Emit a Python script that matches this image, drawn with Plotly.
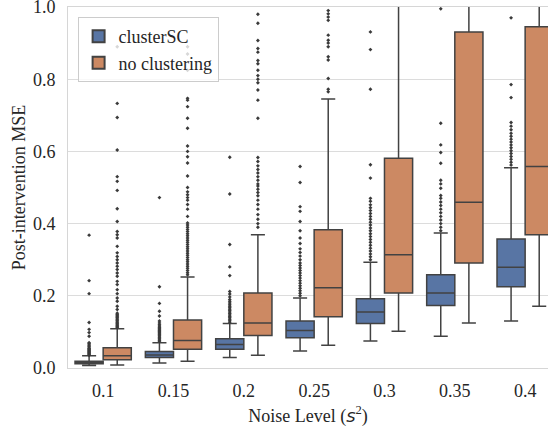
import numpy as np
import plotly.graph_objects as go

categories = ["0.1", "0.15", "0.2", "0.25", "0.3", "0.35", "0.4"]
series_names = ["clusterSC", "no clustering"]

# clusterSC box statistics
sc_q1 = [0.012, 0.029, 0.052, 0.084, 0.123, 0.173, 0.225]
sc_median = [0.015, 0.036, 0.065, 0.104, 0.155, 0.208, 0.279]
sc_q3 = [0.019, 0.046, 0.081, 0.130, 0.192, 0.258, 0.357]
sc_low = [0.007, 0.014, 0.029, 0.047, 0.075, 0.088, 0.130]
sc_high = [0.034, 0.070, 0.123, 0.194, 0.293, 0.374, 0.555]

# no clustering box statistics
nc_q1 = [0.023, 0.052, 0.090, 0.142, 0.208, 0.291, 0.369]
nc_median = [0.034, 0.076, 0.125, 0.222, 0.314, 0.459, 0.558]
nc_q3 = [0.056, 0.133, 0.208, 0.383, 0.581, 0.931, 0.945]
nc_low = [0.008, 0.019, 0.035, 0.063, 0.102, 0.125, 0.171]
nc_high = [0.109, 0.252, 0.369, 0.745, 1.12, 1.50, 1.60]

# outliers (fliers)
sc_out = [
    [0.035, 0.037, 0.039, 0.041, 0.043, 0.045, 0.047, 0.049, 0.051, 0.053, 0.055, 0.058,
     0.061, 0.064, 0.067, 0.070, 0.088, 0.098, 0.107, 0.126, 0.206, 0.242, 0.368],
    [0.074, 0.077, 0.080, 0.083, 0.086, 0.089, 0.092, 0.095, 0.098, 0.101, 0.104, 0.107,
     0.110, 0.113, 0.116, 0.120, 0.125, 0.130, 0.144, 0.157, 0.179, 0.225, 0.472],
    [0.127, 0.131, 0.135, 0.139, 0.143, 0.147, 0.151, 0.155, 0.159, 0.163, 0.167, 0.171,
     0.175, 0.180, 0.185, 0.190, 0.197, 0.205, 0.212, 0.256, 0.280, 0.342, 0.482, 0.584],
    [0.200, 0.207, 0.214, 0.221, 0.228, 0.235, 0.242, 0.249, 0.256, 0.263, 0.270, 0.277,
     0.284, 0.291, 0.300, 0.310, 0.320, 0.330, 0.345, 0.360, 0.380, 0.406, 0.434, 0.447,
     0.514, 0.558],
    [0.300, 0.308, 0.316, 0.324, 0.332, 0.340, 0.348, 0.356, 0.364, 0.372, 0.380, 0.388,
     0.396, 0.404, 0.412, 0.420, 0.428, 0.436, 0.444, 0.452, 0.462, 0.470, 0.526, 0.563,
     0.772, 0.882, 0.931],
    [0.380, 0.390, 0.400, 0.410, 0.420, 0.430, 0.440, 0.450, 0.460, 0.470, 0.478, 0.498,
     0.510, 0.520, 0.567, 0.597, 0.618, 0.678, 0.995],
    [0.562, 0.570, 0.578, 0.586, 0.594, 0.602, 0.610, 0.618, 0.626, 0.634, 0.642, 0.650,
     0.660, 0.670, 0.680, 0.749, 0.785, 0.970],
]
nc_out = [
    [0.112, 0.115, 0.118, 0.121, 0.124, 0.127, 0.130, 0.133, 0.136, 0.139, 0.142, 0.145,
     0.148, 0.152, 0.162, 0.171, 0.185, 0.194, 0.206, 0.217, 0.231, 0.240, 0.254, 0.263,
     0.273, 0.282, 0.291, 0.300, 0.309, 0.319, 0.337, 0.360, 0.369, 0.378, 0.406, 0.441,
     0.492, 0.517, 0.530, 0.604, 0.694, 0.733, 0.890],
    [0.258, 0.264, 0.270, 0.276, 0.282, 0.288, 0.294, 0.300, 0.306, 0.312, 0.318, 0.324,
     0.330, 0.336, 0.342, 0.348, 0.354, 0.360, 0.366, 0.372, 0.378, 0.384, 0.390, 0.396,
     0.402, 0.420, 0.440, 0.453, 0.465, 0.472, 0.480, 0.488, 0.500, 0.532, 0.568, 0.585,
     0.600, 0.615, 0.664, 0.692, 0.724, 0.742, 0.747, 0.825, 0.870, 0.890],
    [0.390, 0.400, 0.412, 0.425, 0.440, 0.453, 0.465, 0.477, 0.486, 0.495, 0.504, 0.510,
     0.520, 0.530, 0.540, 0.550, 0.560, 0.572, 0.583, 0.692, 0.742, 0.770, 0.790, 0.800,
     0.810, 0.825, 0.843, 0.852, 0.875, 0.885, 0.907, 0.955, 0.980],
    [0.765, 0.772, 0.802, 0.853, 0.862, 0.890, 0.900, 0.908, 0.922, 0.963, 0.972, 0.981,
     0.990],
    [],
    [],
    [],
]

colors = ["#5875a4", "#cc8963"]
line_col = "#424242"
TXT = "#262626"
FONT = "Times New Roman"
FS = 18

pos = np.arange(len(categories))
fig = go.Figure()

stats = [
    (sc_q1, sc_median, sc_q3, sc_low, sc_high),
    (nc_q1, nc_median, nc_q3, nc_low, nc_high),
]
for name, col, (q1, med, q3, lo, hi) in zip(series_names, colors, stats):
    fig.add_trace(go.Box(
        x=pos, q1=q1, median=med, q3=q3, lowerfence=lo, upperfence=hi,
        name=name, fillcolor=col, line=dict(color=line_col, width=1.5),
        boxpoints=False, whiskerwidth=0.5, offsetgroup=name,
    ))

for k, outs in enumerate([sc_out, nc_out]):
    xs, ys = [], []
    off = -0.2 if k == 0 else 0.2
    for i, vals in enumerate(outs):
        xs += [pos[i] + off] * len(vals)
        ys += vals
    fig.add_trace(go.Scatter(
        x=xs, y=ys, mode="markers", showlegend=False, hoverinfo="skip", cliponaxis=True,
        marker=dict(symbol="diamond", size=3, color="#3a3a3a", line=dict(width=0)),
    ))

fig.update_layout(
    width=548, height=427,
    margin=dict(l=68, r=0, t=7, b=59, autoexpand=False),
    paper_bgcolor="white", plot_bgcolor="white",
    boxmode="group", boxgap=0.2, boxgroupgap=0.0,
    font=dict(family=FONT, size=FS, color=TXT),
    legend=dict(
        x=0.02, y=0.972, xanchor="left", yanchor="top",
        bgcolor="rgba(255,255,255,0.8)", bordercolor="#cccccc", borderwidth=1,
        font=dict(family=FONT, size=FS, color=TXT),
        itemsizing="constant", tracegroupgap=4,
    ),
    xaxis=dict(
        range=[-0.5, 6.325], tickmode="array", tickvals=pos, ticktext=categories,
        showgrid=False, zeroline=False, showline=True, mirror=True, automargin=False,
        linecolor="#d6d6d6", linewidth=1, ticks="", ticklabelstandoff=6,
        ticklabeloverflow="allow",
        tickfont=dict(family=FONT, size=FS, color=TXT),
        title=dict(text="Noise Level (<span style='font-family:DejaVu Sans;font-style:italic'>s</span><sup>2</sup>)",
                   font=dict(family=FONT, size=FS, color=TXT), standoff=9),
    ),
    yaxis=dict(
        range=[0, 1.0], tickmode="array", tickvals=[0, 0.2, 0.4, 0.6, 0.8, 1.0],
        ticktext=["0.0", "0.2", "0.4", "0.6", "0.8", "1.0"], automargin=False,
        showgrid=True, gridcolor="#dcdcdc", gridwidth=1, zeroline=False,
        showline=True, linecolor="#d6d6d6", linewidth=1, ticks="", ticklabelstandoff=8,
        ticklabeloverflow="allow",
        tickfont=dict(family=FONT, size=FS, color=TXT),
        title=dict(text="Post-intervention MSE", font=dict(family=FONT, size=FS, color=TXT),
                   standoff=2),
    ),
)

fig.write_html("out.html", config={"displayModeBar": False},
               post_script="document.body.style.margin='0';document.body.style.padding='0';")
